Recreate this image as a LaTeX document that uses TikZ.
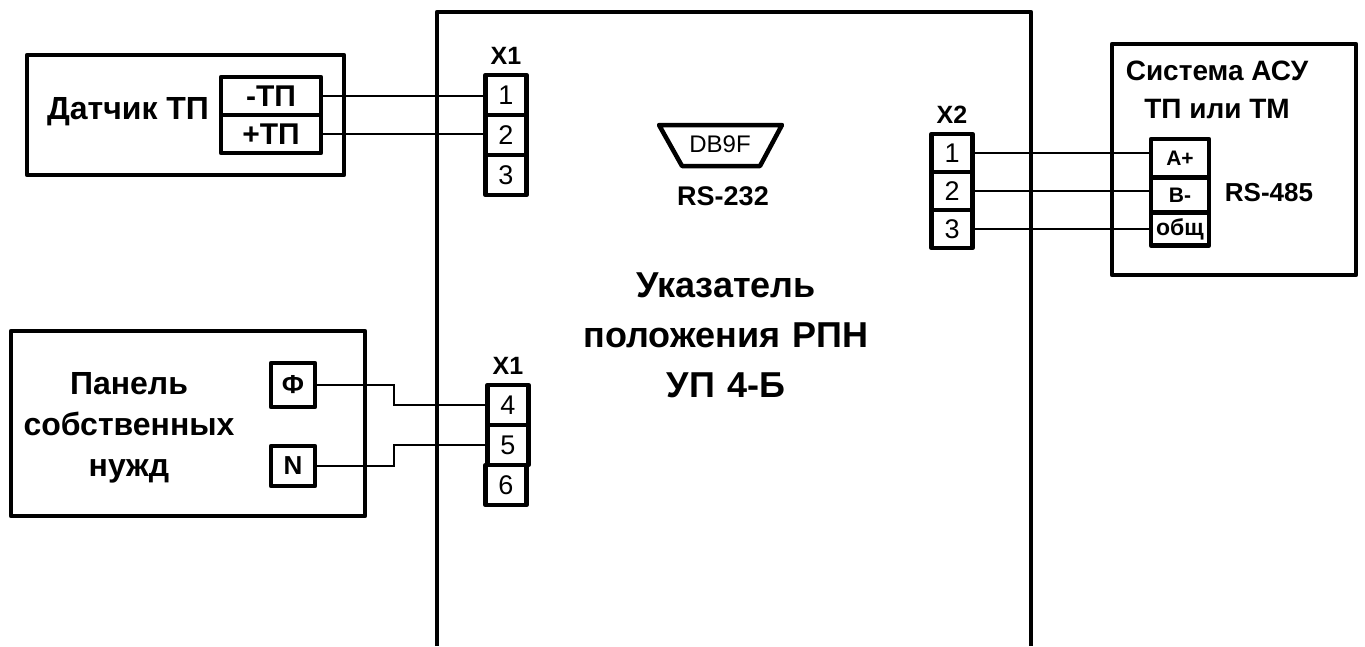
\documentclass[tikz,border=0pt]{standalone}
\usepackage{fontspec}
\setmainfont{Liberation Sans}
\usetikzlibrary{positioning}

\newcommand{\fs}[1]{\fontsize{#1}{#1}\selectfont}

\tikzset{
  frame/.style={draw,line width=4.5pt,line join=round},
  termbox/.style={draw,line width=4.5pt,line join=round,outer sep=0pt,inner sep=0pt,
                  minimum width=41pt,minimum height=40pt,font=\fs{27}},
  pinbox/.style={draw,line width=4.5pt,line join=round,outer sep=0pt,inner sep=0pt,font=\bfseries\fs{30}},
  title/.style={align=center,font=\bfseries\fs{32},inner sep=0pt},
  small/.style={font=\bfseries\fs{25},inner sep=0pt},
  wire/.style={line width=2pt}
}

\begin{document}
\begin{tikzpicture}[x=1pt,y=-1pt,node distance=0pt]
\useasboundingbox (0,0) rectangle (1365,646);

% main unit
\draw[frame,line cap=butt] (437,646) -- (437,12) -- (1031,12) -- (1031,646);
\node[title,font=\bfseries\fs{36},text width=320pt] (unit) at (726,335)
  {Указатель\\[14pt]положения РПН\\[14pt]УП 4-Б};

% serial port
\draw[frame] (659,125) -- (782,125) -- (760,166) -- (682,166) -- cycle;
\node[inner sep=0pt,font=\fs{24}] (db9) at (720,144) {DB9F};
\node[small,font=\bfseries\fs{27}] (rs232) at (723,196) {RS-232};

% sensor
\draw[frame] (27,55) rectangle (344,175);
\node[pinbox,minimum width=100pt,minimum height=38pt] (tm) at (271,96) {-ТП};
\node[pinbox,minimum width=100pt,minimum height=38pt,below=of tm] (tp) {+ТП};
\node[title] (sensor) at (128,112) {Датчик ТП};

% X1 upper
\node[termbox] (a1) at (506,95) {1};
\node[termbox,below=of a1] (a2) {2};
\node[termbox,below=of a2] (a3) {3};
\node[small,above=10pt of a1] (x1a) {X1};

% panel
\draw[frame] (11,331) rectangle (365,516);
\node[pinbox,minimum size=44pt,font=\bfseries\fs{26}] (phi) at (293,385) {Ф};
\node[pinbox,minimum size=40pt,minimum width=44pt,font=\bfseries\fs{26}] (neu) at (293,466) {N};
\node[title,text width=240pt] (panel) at (129,428) {Панель\\[9pt]собственных\\[9pt]нужд};

% X1 lower
\node[termbox] (b4) at (508,405) {4};
\node[termbox,below=of b4] (b5) {5};
\node[termbox,below=of b5,xshift=-2pt] (b6) {6};
\node[small,above=10pt of b4] (x1b) {X1};
\coordinate (bend) at (394,0);

% X2
\node[termbox,minimum height=38pt] (c1) at (952,153) {1};
\node[termbox,minimum height=38pt,below=of c1] (c2) {2};
\node[termbox,minimum height=38pt,below=of c2] (c3) {3};
\node[small,above=10pt of c1] (x2) {X2};

% automation system
\draw[frame] (1112,44) rectangle (1356,275);
\node[title,font=\bfseries\fs{28}] (asu) at (1217,90) {Система АСУ\\[10pt]ТП или ТМ};
\node[pinbox,minimum width=58pt,minimum height=38pt,font=\bfseries\fs{21}] (ap) at (1180,158) {А+};
\node[pinbox,minimum width=58pt,minimum height=35pt,font=\bfseries\fs{21}] (bm) at (1180,195) {В-};
\node[pinbox,minimum width=58pt,minimum height=33pt,font=\bfseries\fs{23}] (gnd) at (1180,229) {общ};
\node[small,font=\bfseries\fs{26}] (rs485) at (1269,193) {RS-485};

% wires
\draw[wire] (tm.east) -- (tm.east -| a1.west);
\draw[wire] (tp.east) -- (tp.east -| a2.west);
\draw[wire] (phi.east) -- (phi.east -| bend) -- (b4.west -| bend) -- (b4.west);
\draw[wire] (neu.east) -- (neu.east -| bend) -- (b5.west -| bend) -- (b5.west);
\draw[wire] (c1.east) -- (c1.east -| ap.west);
\draw[wire] (c2.east) -- (c2.east -| bm.west);
\draw[wire] (c3.east) -- (c3.east -| gnd.west);

\end{tikzpicture}
\end{document}
